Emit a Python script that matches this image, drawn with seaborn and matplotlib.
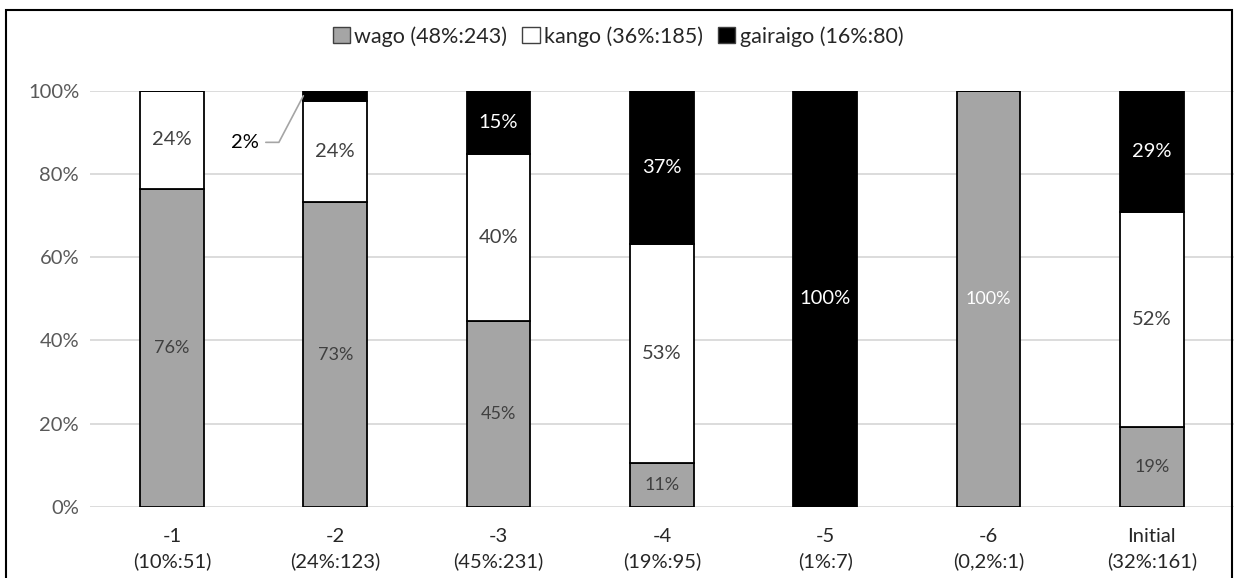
import pandas as pd
import matplotlib.pyplot as plt
import seaborn as sns
from matplotlib.patches import Patch, Rectangle

# data (share of each group in %)
categories = ["-1\n(10%:51)", "-2\n(24%:123)", "-3\n(45%:231)", "-4\n(19%:95)",
              "-5\n(1%:7)", "-6\n(0,2%:1)", "Initial\n(32%:161)"]
wago = [76.5, 73.2, 44.6, 10.6, 0, 100, 19.3]
kango = [23.5, 24.4, 40.3, 52.6, 0, 0, 51.6]
gairaigo = [0, 2.4, 15.1, 36.8, 100, 0, 29.1]
legend_labels = ["wago (48%:243)", "kango (36%:185)", "gairaigo (16%:80)"]

COLORS = ["#A5A5A5", "#FFFFFF", "#000000"]
LABEL_COLORS = ["#404040", "#404040", "#FFFFFF"]

sns.set_theme(style="white")
plt.rcParams["font.family"] = ["Lato", "DejaVu Sans"]

df = pd.DataFrame({"cat": categories, "wago": wago, "kango": kango, "gairaigo": gairaigo})

fig = plt.figure(figsize=(12.36, 5.78), dpi=100)
ax = fig.add_axes([0.073, 0.123, 0.925, 0.72])

bottom = [0] * len(categories)
series = ["wago", "kango", "gairaigo"]
for i, s in enumerate(series):
    sns.barplot(data=df, x="cat", y=s, bottom=bottom, color=COLORS[i], width=0.39,
                edgecolor="black", linewidth=1.3, saturation=1, ax=ax, zorder=3)
    for j, v in enumerate(df[s]):
        if v <= 0:
            continue
        if s == "gairaigo" and v < 5:
            continue  # labelled outside with a leader line below
        col = LABEL_COLORS[i]
        if s == "wago" and v == 100:
            col = "white"
        size = 13 if s == "wago" else 14.5
        ax.text(j, bottom[j] + v / 2, f"{round(v)}%", ha="center", va="center",
                fontsize=size, color=col, zorder=5)
    bottom = [b + v for b, v in zip(bottom, df[s])]

# leader line for the small gairaigo share in "-2"
j = 1
small = gairaigo[j]
top_y = bottom[j] - small / 2
lbl_x, lbl_y = j - 0.47, 87.6
ax.text(lbl_x, lbl_y, f"{round(small)}%", ha="right", va="center", fontsize=14.5, color="black")
ax.plot([lbl_x + 0.045, lbl_x + 0.125, j - 0.195], [lbl_y, lbl_y, top_y],
        color="#A5A5A5", lw=1.2, zorder=4, clip_on=False)

ax.set_ylim(0, 100)
ax.set_xlim(-0.5, len(categories) - 0.5)
ax.set_yticks(range(0, 101, 20))
ax.set_yticklabels([f"{t}%" for t in range(0, 101, 20)], fontsize=14.5, color="#595959")
ax.set_xticks(range(len(categories)))
ax.set_xticklabels(categories, fontsize=14.5, color="#262626", linespacing=1.5)
ax.tick_params(axis="x", length=0, pad=15)
ax.tick_params(axis="y", length=0, pad=8)
ax.set_xlabel("")
ax.set_ylabel("")
ax.yaxis.grid(True, color="#D9D9D9", lw=1.3, zorder=0)
ax.set_axisbelow(True)
sns.despine(ax=ax, left=True, bottom=True)

handles = [Patch(facecolor=c, edgecolor="#404040", linewidth=1.0) for c in COLORS]
fig.legend(handles, legend_labels, loc="center", bbox_to_anchor=(0.5, 0.937), ncol=3,
           frameon=False, fontsize=15.5, handlelength=0.8, handleheight=0.8,
           handletextpad=0.2, columnspacing=0.7)

fig.patches.append(Rectangle((0.005, -0.1), 0.992, 1.083, transform=fig.transFigure,
                             fill=False, edgecolor="black", linewidth=1.5))

fig.savefig("out.png", dpi=100)
